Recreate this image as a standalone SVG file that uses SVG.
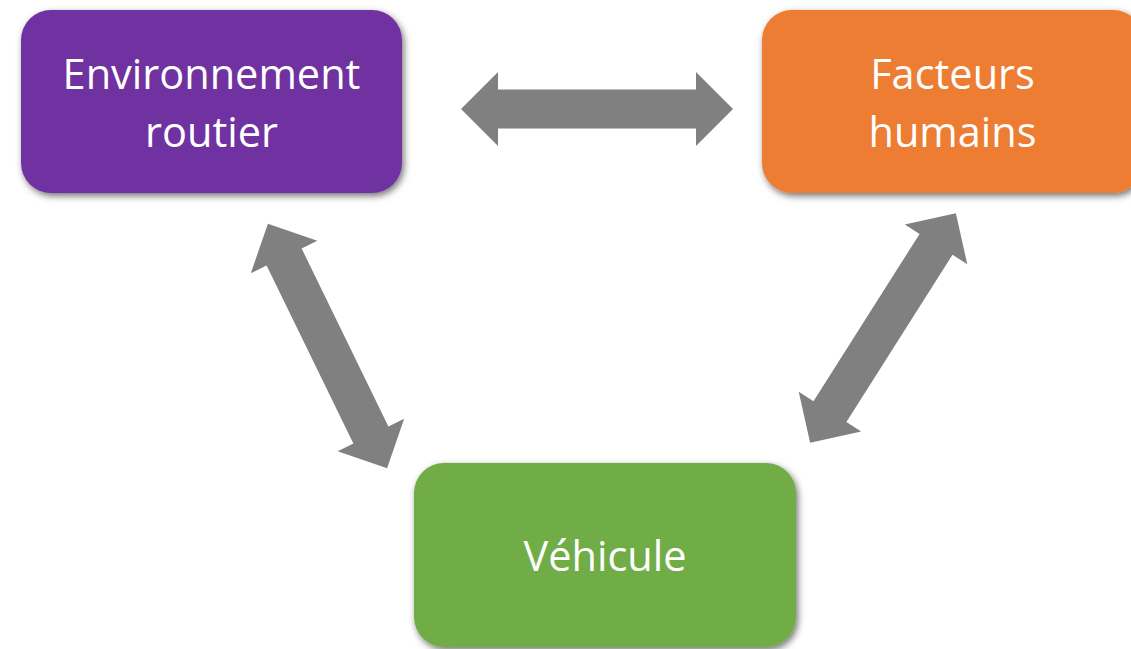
<svg xmlns="http://www.w3.org/2000/svg" xmlns:xlink="http://www.w3.org/1999/xlink" width="1131" height="649" viewBox="0 0 1131 649">
  <defs>
    <filter id="shadow" x="-10%" y="-15%" width="125%" height="135%">
      <feDropShadow dx="2" dy="3" stdDeviation="3.5" flood-color="#000" flood-opacity="0.55"/>
    </filter>
    <path id="dblarrow" d="M-136,0 L-99,-37 L-99,-19.5 L99,-19.5 L99,-37 L136,0 L99,37 L99,19.5 L-99,19.5 L-99,37 Z"/>
  </defs>
  <style>
    .box { filter: url(#shadow); }
    .lbl { font-family: "Open Sans", "Noto Sans", "Liberation Sans", sans-serif; font-size: 41.5px; fill: #ffffff; text-anchor: middle; }
    .arrow { fill: #808080; }
  </style>
  <rect width="1131" height="649" fill="#ffffff"/>

  <g id="connectors">
    <use xlink:href="#dblarrow" class="arrow" transform="translate(597,109)"/>
    <use xlink:href="#dblarrow" class="arrow" transform="translate(327.5,346) rotate(64)"/>
    <use xlink:href="#dblarrow" class="arrow" transform="translate(883,328) rotate(122.4)"/>
  </g>

  <g id="environnement">
    <rect class="box" x="21" y="10" width="381" height="183" rx="30" ry="30" fill="#7030A0"/>
    <text class="lbl" x="211.5" y="89">Environnement</text>
    <text class="lbl" x="211.5" y="147">routier</text>
  </g>

  <g id="facteurs">
    <rect class="box" x="762" y="10" width="381" height="183" rx="30" ry="30" fill="#ED7D31"/>
    <text class="lbl" x="952.5" y="89">Facteurs</text>
    <text class="lbl" x="952.5" y="147">humains</text>
  </g>

  <g id="vehicule">
    <rect class="box" x="414" y="463" width="382" height="184" rx="30" ry="30" fill="#70AD47"/>
    <text class="lbl" x="605" y="571">Véhicule</text>
  </g>
</svg>
